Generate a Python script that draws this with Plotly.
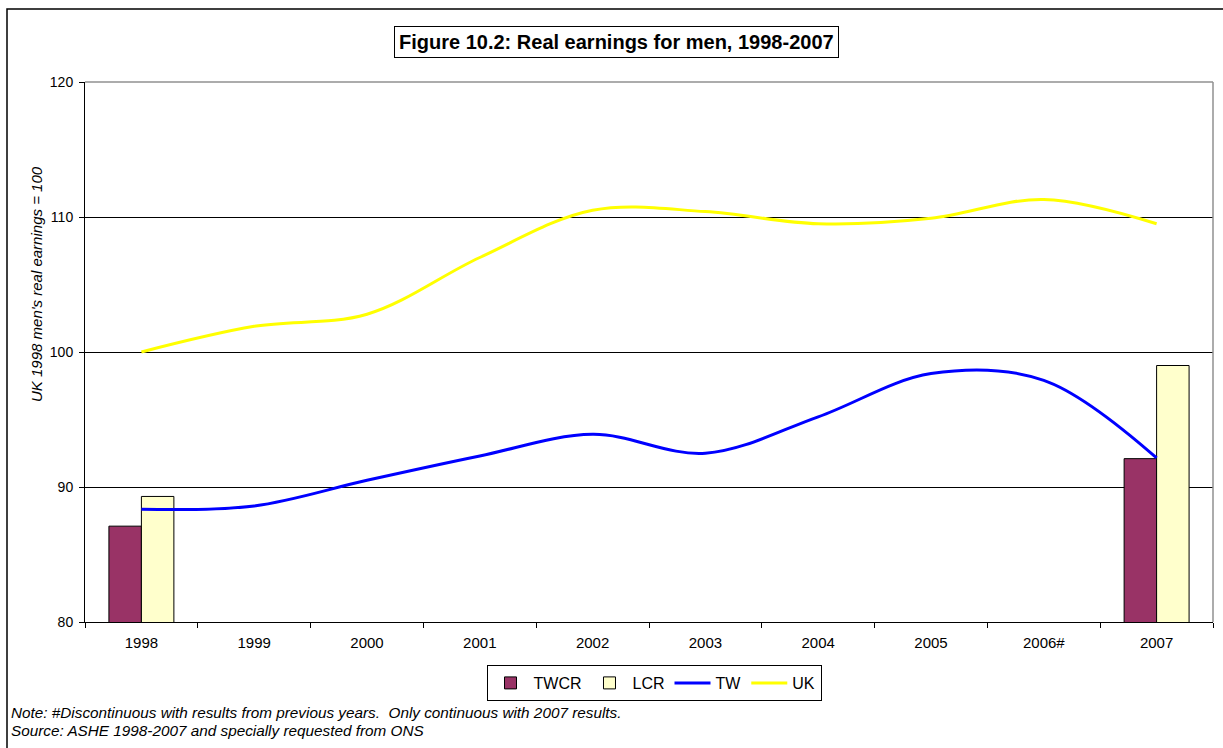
import plotly.graph_objects as go

years = ["1998", "1999", "2000", "2001", "2002", "2003", "2004", "2005", "2006#", "2007"]
twcr = [87.1, None, None, None, None, None, None, None, None, 92.1]
lcr = [89.3, None, None, None, None, None, None, None, None, 99.0]
tw = [88.35, 88.6, 90.5, 92.3, 93.9, 92.5, 95.2, 98.4, 97.9, 92.15]
uk = [100.0, 101.9, 102.8, 107.0, 110.5, 110.4, 109.5, 109.9, 111.3, 109.5]
y_ticks = [80, 90, 100, 110, 120]

FONT = "Liberation Sans, Arial, sans-serif"

# plot area in pixels
L, R, T, B = 85, 1213, 82, 622
W, H = 1223, 748
pw, ph = R - L, B - T


def px(x):
    return (x - L) / pw


def py(y):
    return (B - y) / ph


fig = go.Figure()
fig.add_trace(go.Bar(x=years, y=twcr, name="TWCR", marker=dict(color="#993366", line=dict(color="black", width=1))))
fig.add_trace(go.Bar(x=years, y=lcr, name="LCR", marker=dict(color="#FFFFCC", line=dict(color="black", width=1))))
fig.add_trace(go.Scatter(x=years, y=tw, name="TW", mode="lines",
                         line=dict(color="#0000FF", width=3, shape="spline", smoothing=1)))
fig.add_trace(go.Scatter(x=years, y=uk, name="UK", mode="lines",
                         line=dict(color="#FFFF00", width=3, shape="spline", smoothing=1)))

fig.update_layout(
    width=W, height=H,
    margin=dict(l=L, r=W - R, t=T, b=H - B, autoexpand=False),
    paper_bgcolor="white", plot_bgcolor="white",
    font=dict(family=FONT, size=14, color="black"),
    barmode="group", bargap=0.424, bargroupgap=0,
    showlegend=True,
    legend=dict(orientation="h", x=px(654), y=py(683), xanchor="center", yanchor="middle",
                bordercolor="black", borderwidth=1, bgcolor="white",
                font=dict(family=FONT, size=16, color="black"),
                itemwidth=36, tracegroupgap=0),
    xaxis=dict(type="category", tickson="boundaries", ticks="outside", ticklen=5, tickcolor="black",
               showline=True, linecolor="black", linewidth=1, showgrid=False,
               ticklabelstandoff=7,
               tickfont=dict(family=FONT, size=15, color="black")),
    yaxis=dict(range=[80, 120], tickvals=y_ticks, ticks="outside", ticklen=5, tickcolor="black",
               showline=True, linecolor="black", linewidth=1, showgrid=True, gridcolor="black",
               gridwidth=1, zeroline=False, ticklabelstandoff=3,
               tickfont=dict(family=FONT, size=14, color="black")),
)

shapes = [
    # outer frame
    dict(type="rect", xref="paper", yref="paper", x0=px(7), x1=px(1230), y0=py(760), y1=py(9),
         line=dict(color="black", width=1.5), layer="above"),
    # top & right gray plot border
    dict(type="line", xref="paper", yref="paper", x0=0, x1=1, y0=1, y1=1,
         line=dict(color="#909090", width=1.5)),
    dict(type="line", xref="paper", yref="paper", x0=1, x1=1, y0=0, y1=1,
         line=dict(color="#909090", width=1.5)),
]
fig.update_layout(shapes=shapes)

fig.add_annotation(text="<b>Figure 10.2: Real earnings for men, 1998-2007</b>",
                   xref="paper", yref="paper", x=px(616), y=py(42), xanchor="center", yanchor="middle",
                   showarrow=False, font=dict(family=FONT, size=20, color="black"),
                   bordercolor="black", borderwidth=1, borderpad=4, bgcolor="white")
fig.add_annotation(text="<i>UK 1998 men's real earnings = 100</i>",
                   xref="paper", yref="paper", x=px(36), y=py(284), xanchor="center", yanchor="middle",
                   textangle=-90, showarrow=False, font=dict(family=FONT, size=15, color="black"))
fig.add_annotation(text="<i>Note: #Discontinuous with results from previous years.  Only continuous with 2007 results.</i>",
                   xref="paper", yref="paper", x=px(9), y=py(712), xanchor="left", yanchor="middle",
                   showarrow=False, font=dict(family=FONT, size=15.3, color="black"))
fig.add_annotation(text="<i>Source: ASHE 1998-2007 and specially requested from ONS</i>",
                   xref="paper", yref="paper", x=px(9), y=py(730), xanchor="left", yanchor="middle",
                   showarrow=False, font=dict(family=FONT, size=15.3, color="black"))

fig.write_html("out.html")
